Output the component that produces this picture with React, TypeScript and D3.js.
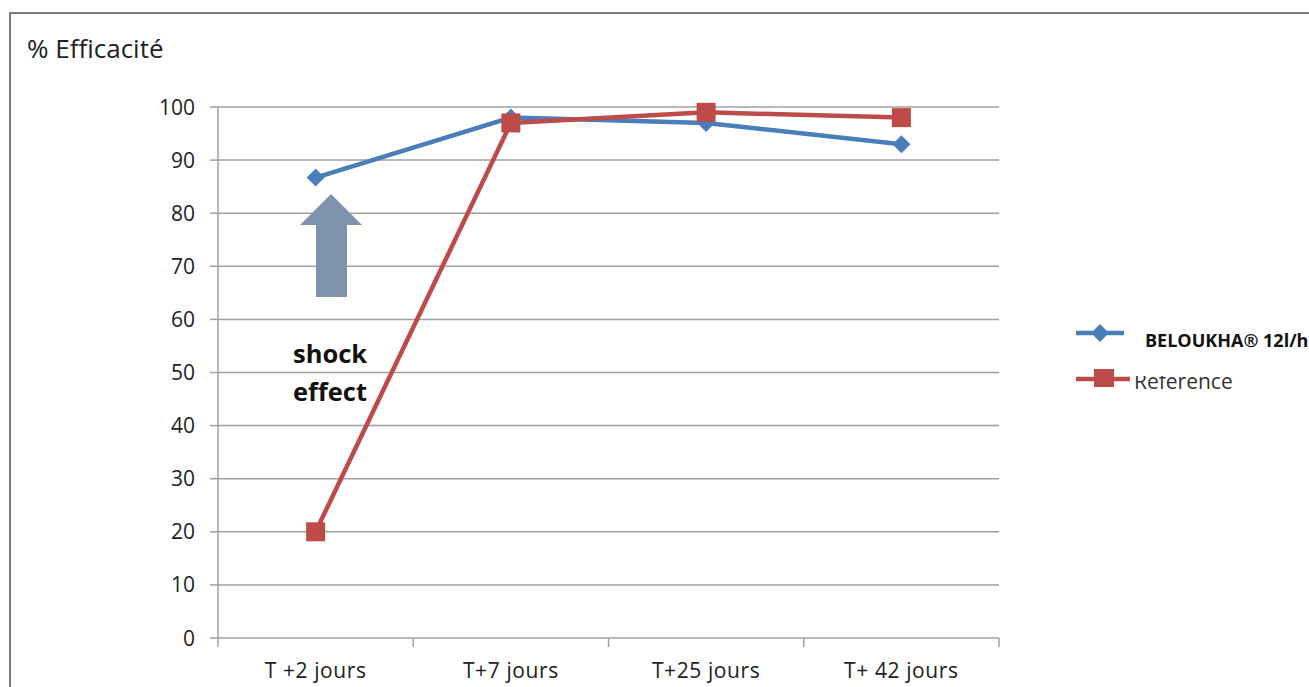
import React from "react";
import * as d3 from "d3";

const categories = ["T +2 jours", "T+7 jours", "T+25 jours", "T+ 42 jours"];
const beloukha = [86.7, 98, 97, 93];
const reference = [20, 97, 99, 98];
const yTicks = [0, 10, 20, 30, 40, 50, 60, 70, 80, 90, 100];
const seriesNames = ["BELOUKHA® 12l/ha", "Reference"];

export default function App() {
  const W = 1309, H = 687;
  const left = 218, right = 999, top = 107, bottom = 638;
  const x = d3.scaleBand().domain(categories).range([left, right]);
  const y = d3.scaleLinear().domain([0, 100]).range([bottom, top]);
  const cx = (c: string) => (x(c) as number) + x.bandwidth() / 2;
  const line = d3.line<number>().x((_, i) => cx(categories[i])).y((d) => y(d));
  const font = "'Open Sans', 'Noto Sans', sans-serif";
  const blue = "#4a7ebb";
  const red = "#be4b48";
  const diamond = (px: number, py: number, r = 9) =>
    `M${px},${py - r}L${px + r},${py}L${px},${py + r}L${px - r},${py}Z`;
  const boundaries = [left, ...categories.map((c) => (x(c) as number) + x.bandwidth())];
  return (
    <svg width={W} height={H} style={{ position: "absolute", left: 0, top: 0, background: "#fff" }}>
      <defs>
        <clipPath id="refclip">
          <rect x={1120} y={376} width={200} height={40} />
        </clipPath>
      </defs>
      <rect x={10} y={13} width={W + 20} height={H + 20} fill="#fff" stroke="#7a7a7a" strokeWidth={2} />
      <text x={27} y={58} fontFamily={font} fontSize={26} fill="#222">% Efficacité</text>
      {yTicks.map((t) => (
        <g key={t}>
          <line x1={left} x2={right} y1={y(t)} y2={y(t)} stroke="#a0a0a0" strokeWidth={1.5} />
          <line x1={left - 8} x2={left} y1={y(t)} y2={y(t)} stroke="#a0a0a0" strokeWidth={1.5} />
          <text x={195} y={y(t) + 7.5} textAnchor="end" fontFamily={font} fontSize={21} fill="#222">{t}</text>
        </g>
      ))}
      <line x1={left} x2={left} y1={top} y2={bottom} stroke="#a0a0a0" strokeWidth={1.5} />
      {boundaries.map((b, i) => (
        <line key={i} x1={b} x2={b} y1={bottom} y2={bottom + 9} stroke="#a0a0a0" strokeWidth={1.5} />
      ))}
      {categories.map((c) => (
        <text key={c} x={cx(c)} y={678} textAnchor="middle" fontFamily={font} fontSize={21} letterSpacing={0.6} fill="#222">{c}</text>
      ))}
      <path d={line(beloukha) || ""} fill="none" stroke={blue} strokeWidth={4.5} strokeLinejoin="round" />
      {beloukha.map((v, i) => (
        <path key={i} d={diamond(cx(categories[i]), y(v))} fill={blue} />
      ))}
      <path d={line(reference) || ""} fill="none" stroke={red} strokeWidth={4.5} strokeLinejoin="round" />
      {reference.map((v, i) => (
        <rect key={i} x={cx(categories[i]) - 9.5} y={y(v) - 9.5} width={19} height={19} fill={red} />
      ))}
      <path d="M331,194 L362,225 L347,225 L347,297 L316,297 L316,225 L300,225 Z" fill="#7f93ae" />
      <text x={293} y={363} fontFamily={font} fontSize={25.5} fontWeight="bold" fill="#111">shock</text>
      <text x={293} y={401} fontFamily={font} fontSize={25.5} fontWeight="bold" fill="#111">effect</text>
      <line x1={1076} x2={1124} y1={333} y2={333} stroke={blue} strokeWidth={4.5} />
      <path d={diamond(1100, 333)} fill={blue} />
      <text x={1145} y={347} fontFamily={font} fontSize={18} fontWeight="bold" fill="#111">{seriesNames[0]}</text>
      <line x1={1076} x2={1130} y1={379} y2={379} stroke={red} strokeWidth={4.5} />
      <rect x={1094} y={369} width={20} height={18} fill={red} />
      <text x={1134} y={389} fontFamily={font} fontSize={21} fill="#333" clipPath="url(#refclip)">{seriesNames[1]}</text>
    </svg>
  );
}
